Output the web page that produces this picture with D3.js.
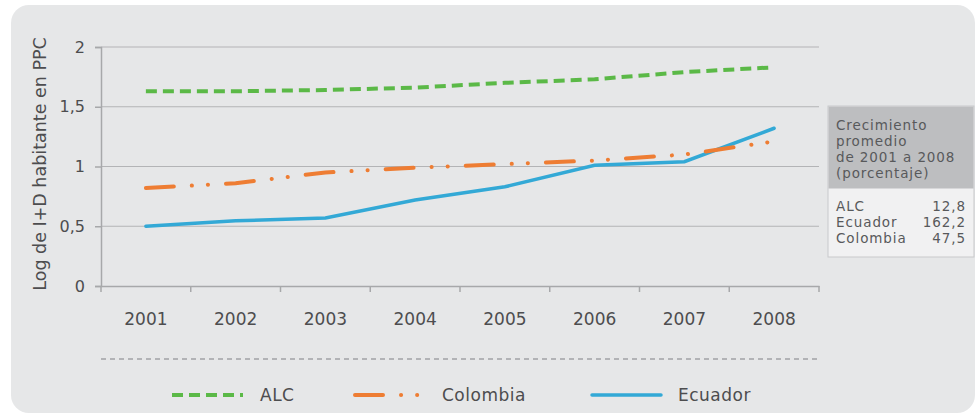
<!DOCTYPE html>
<html>
<head>
<meta charset="utf-8">
<script src="https://cdn.jsdelivr.net/npm/d3@7"></script>
<style>
  body { margin: 0; background: #fff; }
  svg { display: block; font-family: "DejaVu Sans", sans-serif; }
</style>
</head>
<body>
<svg id="chart"></svg>
<script>
const years = ["2001", "2002", "2003", "2004", "2005", "2006", "2007", "2008"];
const alc = [1.63, 1.63, 1.64, 1.66, 1.70, 1.73, 1.79, 1.83];
const colombia = [0.82, 0.86, 0.95, 0.99, 1.02, 1.05, 1.10, 1.21];
const ecuador = [0.50, 0.545, 0.57, 0.72, 0.83, 1.01, 1.04, 1.32];
const yTicks = [0, 0.5, 1, 1.5, 2];
const tableHead = ["Crecimiento", "promedio", "de 2001 a 2008", "(porcentaje)"];
const tableNames = ["ALC", "Ecuador", "Colombia"];
const tableValues = ["12,8", "162,2", "47,5"];

const width = 978, height = 415;
const svg = d3.select("#chart").attr("width", width).attr("height", height);
const textColor = "#4d4d4f";

// panel
svg.append("rect")
  .attr("x", 11).attr("y", 5).attr("width", 964).attr("height", 408)
  .attr("rx", 18).attr("fill", "#e6e7e8");

const x = d3.scaleBand().domain(years).range([101, 819]);
const y = d3.scaleLinear().domain([0, 2]).range([286, 47]);
const cx = d => x(d) + x.bandwidth() / 2;

// grid
svg.append("g").selectAll("line")
  .data(yTicks.filter(d => d > 0))
  .join("line")
  .attr("x1", 101).attr("x2", 819)
  .attr("y1", d => y(d)).attr("y2", d => y(d))
  .attr("stroke", "#b3b4b6").attr("stroke-width", 1.2);

// y axis
const yAxis = svg.append("g")
  .attr("transform", "translate(101,0)")
  .call(d3.axisLeft(y).tickValues(yTicks).tickSize(6).tickPadding(10)
    .tickFormat(d => String(d).replace(".", ",")));
yAxis.select(".domain").attr("stroke", "#a7a8aa").attr("stroke-width", 1.5);
yAxis.selectAll(".tick line").attr("stroke", "#a7a8aa").attr("stroke-width", 1.5);
yAxis.selectAll("text").attr("font-size", 16).attr("font-family", "DejaVu Sans")
  .attr("fill", textColor);

// x axis
const xAxis = svg.append("g")
  .attr("transform", `translate(0,${y(0)})`)
  .call(d3.axisBottom(x).tickSize(0).tickPadding(27));
xAxis.select(".domain").attr("stroke", "#a7a8aa").attr("stroke-width", 1.5);
xAxis.selectAll("text").attr("font-size", 17).attr("font-family", "DejaVu Sans")
  .attr("fill", textColor);
xAxis.selectAll(".bt").data(years.concat(["end"])).join("line")
  .attr("x1", (d, i) => i < years.length ? x(d) : x.range()[1])
  .attr("x2", (d, i) => i < years.length ? x(d) : x.range()[1])
  .attr("y1", 0).attr("y2", 6)
  .attr("stroke", "#a7a8aa").attr("stroke-width", 1.5);

// y title
svg.append("text")
  .attr("transform", "translate(46,164) rotate(-90)")
  .attr("text-anchor", "middle")
  .attr("font-size", 17.5).attr("fill", textColor)
  .text("Log de I+D habitante en PPC");

// series
const series = [
  { name: "ALC", values: alc, color: "#5bb947", width: 4, dash: "11,6", cap: "butt" },
  { name: "Colombia", values: colombia, color: "#ee7d33", width: 4, dash: "28,18,0.1,16,0.1,18", cap: "round" },
  { name: "Ecuador", values: ecuador, color: "#33a9d6", width: 3.5, dash: null, cap: "round" }
];
const line = d3.line().x((d, i) => cx(years[i])).y(d => y(d));

// draw order: ALC, Ecuador, Colombia on top
[series[0], series[2], series[1]].forEach(s => {
  svg.append("path")
    .datum(s.values)
    .attr("d", line)
    .attr("fill", "none")
    .attr("stroke", s.color)
    .attr("stroke-width", s.width)
    .attr("stroke-linecap", s.cap)
    .attr("stroke-dasharray", s.dash);
});

// separator
svg.append("line")
  .attr("x1", 101).attr("x2", 819).attr("y1", 359).attr("y2", 359)
  .attr("stroke", "#7f8083").attr("stroke-width", 1.2).attr("stroke-dasharray", "5,4");

// legend
const legendX = [172, 353, 590];
const legend = svg.append("g").attr("transform", "translate(0,395)");
series.forEach((s, i) => {
  const g = legend.append("g").attr("transform", `translate(${legendX[i]},0)`);
  g.append("line")
    .attr("x1", s.cap === "round" ? 2 : 0).attr("x2", s.name === "Colombia" ? 66 : 71)
    .attr("stroke", s.color).attr("stroke-width", s.width)
    .attr("stroke-linecap", s.cap)
    .attr("stroke-dasharray", s.dash);
  g.append("text")
    .attr("x", s.name === "Colombia" ? 89 : 88)
    .attr("dy", "0.35em")
    .attr("font-size", 17).attr("letter-spacing", 0.5).attr("fill", textColor)
    .text(s.name);
});

// table
const tb = svg.append("g").attr("transform", "translate(828,106)")
  .attr("font-size", 13.5).attr("letter-spacing", 0.9).attr("fill", "#58595b");
tb.append("rect").attr("width", 146).attr("height", 151)
  .attr("fill", "#f1f1f2").attr("stroke", "#c8c9cb").attr("stroke-width", 1);
tb.append("rect").attr("x", 0.5).attr("y", 0.5).attr("width", 145).attr("height", 82)
  .attr("fill", "#bdbec0");
tb.selectAll(".h").data(tableHead).join("text")
  .attr("x", 8).attr("y", (d, i) => 24 + i * 16)
  .text(d => d);
tb.selectAll(".n").data(tableNames).join("text")
  .attr("x", 8).attr("y", (d, i) => 105 + i * 16)
  .text(d => d);
tb.selectAll(".v").data(tableValues).join("text")
  .attr("x", 138).attr("y", (d, i) => 105 + i * 16)
  .attr("text-anchor", "end")
  .text(d => d);
</script>
</body>
</html>
